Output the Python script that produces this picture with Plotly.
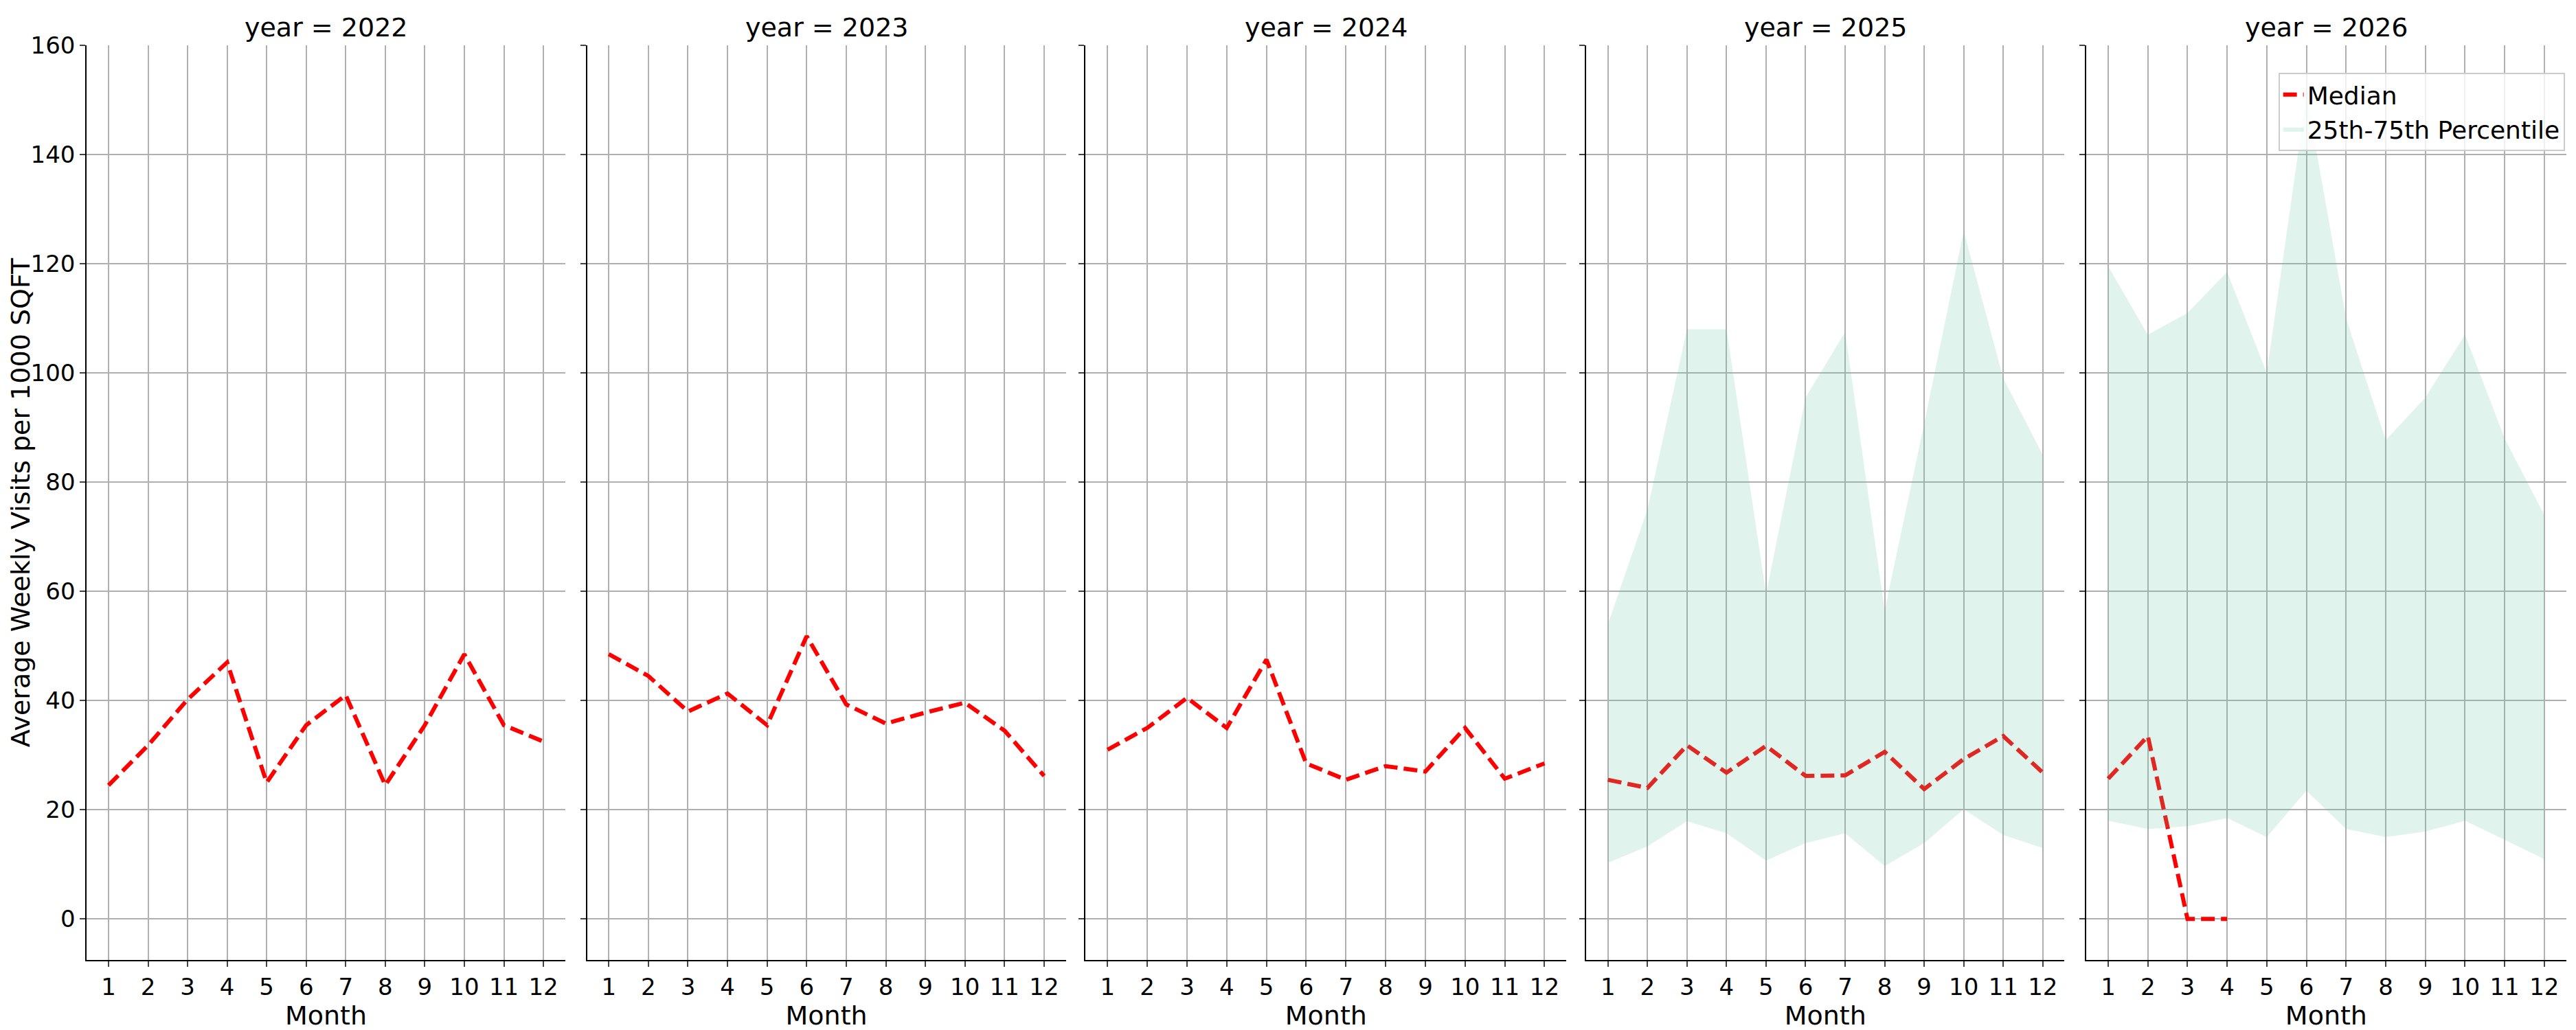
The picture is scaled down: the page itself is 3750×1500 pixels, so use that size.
import plotly.graph_objects as go

months = list(range(1, 13))
years = [2022, 2023, 2024, 2025, 2026]

median_2022 = [24.5, 31.8, 40.2, 47.0, 25.0, 35.5, 41.0, 24.5, 35.5, 48.5, 35.5, 32.5]
median_2023 = [48.5, 44.5, 38.0, 41.3, 35.5, 51.8, 39.3, 35.8, 37.8, 39.6, 34.5, 26.2]
median_2024 = [31.0, 35.0, 40.5, 35.0, 47.5, 28.5, 25.5, 28.0, 27.0, 35.0, 25.7, 28.5]
median_2025 = [25.5, 24.0, 31.8, 26.8, 31.7, 26.2, 26.3, 30.6, 23.8, 29.3, 33.5, 26.8]
median_2026 = [25.7, 33.5, 0.0, 0.0]

p25_2025 = [10.3, 13.3, 17.9, 15.7, 10.7, 13.9, 15.7, 9.7, 13.9, 20.1, 15.4, 13.0]
p75_2025 = [54.0, 75.0, 108.0, 108.0, 59.5, 95.5, 107.5, 56.5, 90.7, 126.0, 99.0, 85.0]
p25_2026 = [18.0, 16.5, 17.0, 18.5, 15.0, 23.5, 16.5, 15.0, 16.0, 18.0, 14.5, 11.0]
p75_2026 = [119.5, 107.0, 111.0, 118.5, 100.0, 151.0, 110.0, 87.7, 95.5, 107.0, 88.0, 74.0]

medians = [median_2022, median_2023, median_2024, median_2025, median_2026]
bands = {2025: (p25_2025, p75_2025), 2026: (p25_2026, p75_2026)}

domains = [[0.030, 0.216], [0.2245, 0.4107], [0.4184, 0.6053], [0.613, 0.799], [0.8075, 0.994]]
FONT = "DejaVu Sans"
fill_col = "rgba(102,194,165,0.2)"

fig = go.Figure()
for i, yr in enumerate(years):
    ax = "" if i == 0 else str(i + 1)
    med = medians[i]
    # median first so it comes first in the legend
    fig.add_trace(go.Scatter(x=months[:len(med)], y=med, mode="lines",
                             line=dict(color="red", width=6, dash="20px,9px"),
                             xaxis="x" + ax, yaxis="y" + ax,
                             name="Median", showlegend=(yr == 2026)))
    if yr in bands:
        lo, hi = bands[yr]
        fig.add_trace(go.Scatter(x=months, y=lo, mode="lines", line=dict(width=0),
                                 xaxis="x" + ax, yaxis="y" + ax, showlegend=False,
                                 hoverinfo="skip"))
        fig.add_trace(go.Scatter(x=months, y=hi, mode="lines", line=dict(width=0),
                                 fill="tonexty", fillcolor=fill_col,
                                 xaxis="x" + ax, yaxis="y" + ax,
                                 name="25th-75th Percentile", showlegend=(yr == 2026)))

    fig.add_annotation(text=f"year = {yr}", xref="paper", yref="paper",
                       x=sum(domains[i]) / 2, xanchor="center", y=1.0, yanchor="bottom",
                       yshift=2, showarrow=False,
                       font=dict(size=38, color="black", family=FONT))

    fig.layout["xaxis" + ax] = dict(
        domain=domains[i], range=[0.45, 12.55], tickmode="array", tickvals=months,
        showgrid=True, gridcolor="#b0b0b0", gridwidth=2, zeroline=False,
        showline=True, linecolor="black", linewidth=2, ticks="outside", ticklen=8,
        tickwidth=2, tickfont=dict(size=34, family=FONT, color="black"),
        title=dict(text="Month", font=dict(size=38, family=FONT, color="black"), standoff=5),
        anchor="y" + ax)
    fig.layout["yaxis" + ax] = dict(
        range=[-7.5, 160], tickvals=[0, 20, 40, 60, 80, 100, 120, 140, 160],
        showgrid=True, gridcolor="#b0b0b0", gridwidth=2, zeroline=False,
        showline=True, linecolor="black", linewidth=2, ticks="outside", ticklen=8,
        tickwidth=2, showticklabels=(i == 0),
        tickfont=dict(size=34, family=FONT, color="black"),
        anchor="x" + ax)
    if i > 0:
        fig.layout["yaxis" + ax]["matches"] = "y"

fig.layout.yaxis.title = dict(text="Average Weekly Visits per 1000 SQFT",
                              font=dict(size=38, family=FONT, color="black"), standoff=10)

fig.update_layout(
    width=3750, height=1500, plot_bgcolor="white", paper_bgcolor="white",
    margin=dict(l=0, r=0, t=58, b=110),
    legend=dict(x=0.9935, xanchor="right", y=0.97, yanchor="top", traceorder="normal",
                bgcolor="rgba(255,255,255,0.8)", bordercolor="#cccccc", borderwidth=2,
                font=dict(size=36, family=FONT, color="black")),
)

fig.write_html("out.html")
